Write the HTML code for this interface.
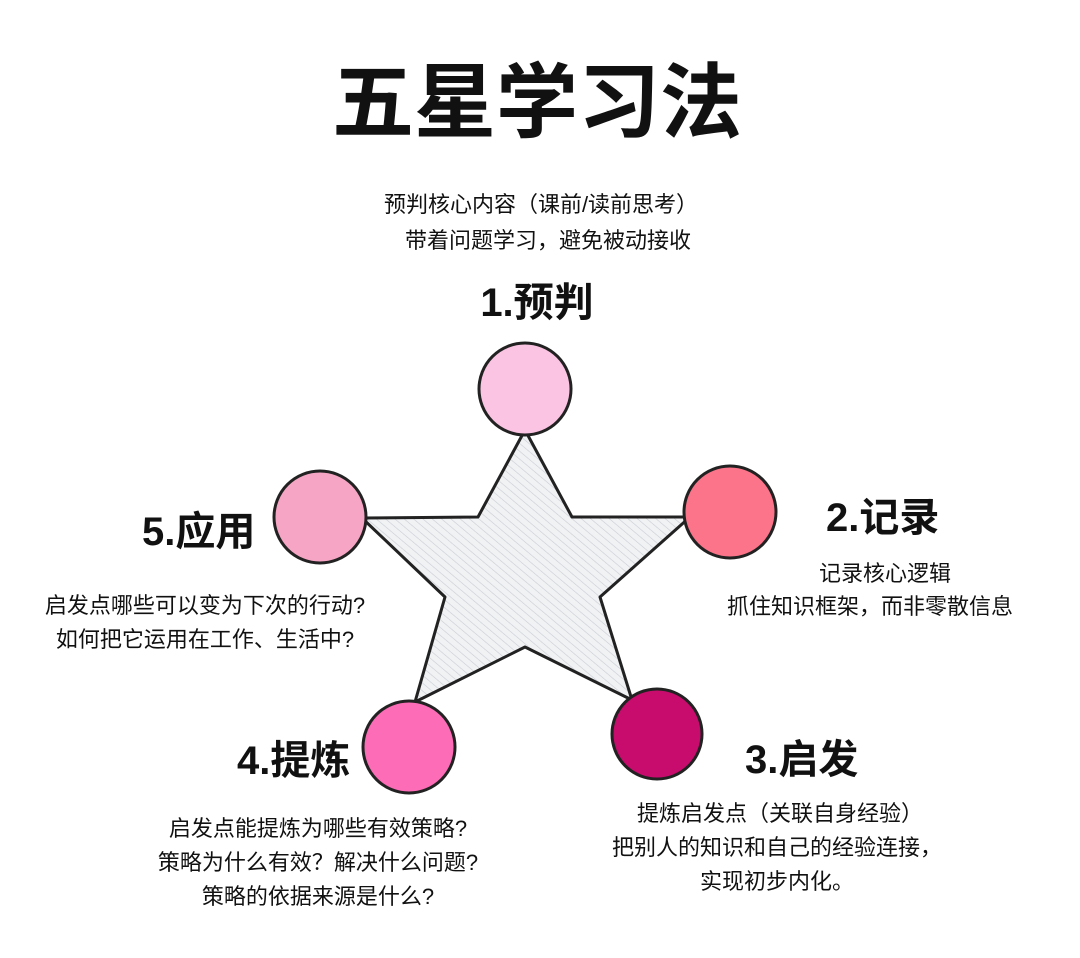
<!DOCTYPE html>
<html><head><meta charset="utf-8"><style>
html,body{margin:0;padding:0;background:#fff;}
svg{display:block;}
text{font-family:"Liberation Sans","Noto Sans CJK SC",sans-serif;fill:#111;}
.s{font-size:22px;}
.h{font-size:40px;font-weight:bold;}
</style></head><body>
<svg width="1080" height="958" viewBox="0 0 1080 958" xmlns="http://www.w3.org/2000/svg">
<defs>
<pattern id="hatch" width="6" height="6" patternUnits="userSpaceOnUse" patternTransform="rotate(-50)">
<rect width="6" height="6" fill="#f1f2f4"/>
<line x1="0" y1="0" x2="0" y2="6" stroke="#c8ccd2" stroke-width="1.2"/>
</pattern>
</defs>
<text x="537" y="131" text-anchor="middle" style="font-size:82px;font-weight:bold;">五星学习法</text>
<text class="s" x="541" y="212" text-anchor="middle">预判核心内容（课前/读前思考）</text>
<text class="s" x="548" y="248" text-anchor="middle">带着问题学习，避免被动接收</text>
<text class="h" x="537" y="316" text-anchor="middle">1.预判</text>

<polygon points="525,430 572,517 690,517 600,597 632,700 525,647 415,702 445,597 362,518 478,517" fill="url(#hatch)" stroke="#222" stroke-width="3" stroke-linejoin="round"/>

<g stroke="#222" stroke-width="3">
<circle cx="525" cy="389" r="46" fill="#fcc4e3"/>
<circle cx="730" cy="512" r="46" fill="#fb7489"/>
<circle cx="320" cy="517" r="46" fill="#f6a6c4"/>
<circle cx="409" cy="747" r="46" fill="#fd6cb6"/>
<circle cx="657" cy="734" r="45" fill="#c80c6d"/>
</g>

<text class="h" x="826" y="531">2.记录</text>
<text class="s" x="885" y="581" text-anchor="middle">记录核心逻辑</text>
<text class="s" x="870" y="614" text-anchor="middle">抓住知识框架，而非零散信息</text>

<text class="h" x="142" y="545">5.应用</text>
<text class="s" x="205" y="613" text-anchor="middle">启发点哪些可以变为下次的行动?</text>
<text class="s" x="205" y="647" text-anchor="middle">如何把它运用在工作、生活中?</text>

<text class="h" x="237" y="774">4.提炼</text>
<text class="s" x="318" y="836" text-anchor="middle">启发点能提炼为哪些有效策略?</text>
<text class="s" x="318" y="870" text-anchor="middle">策略为什么有效？解决什么问题?</text>
<text class="s" x="318" y="904" text-anchor="middle">策略的依据来源是什么?</text>

<text class="h" x="745" y="773">3.启发</text>
<text class="s" x="780" y="821" text-anchor="middle">提炼启发点（关联自身经验）</text>
<text class="s" x="777" y="855" text-anchor="middle">把别人的知识和自己的经验连接，</text>
<text class="s" x="777" y="889" text-anchor="middle">实现初步内化。</text>
</svg>
</body></html>
